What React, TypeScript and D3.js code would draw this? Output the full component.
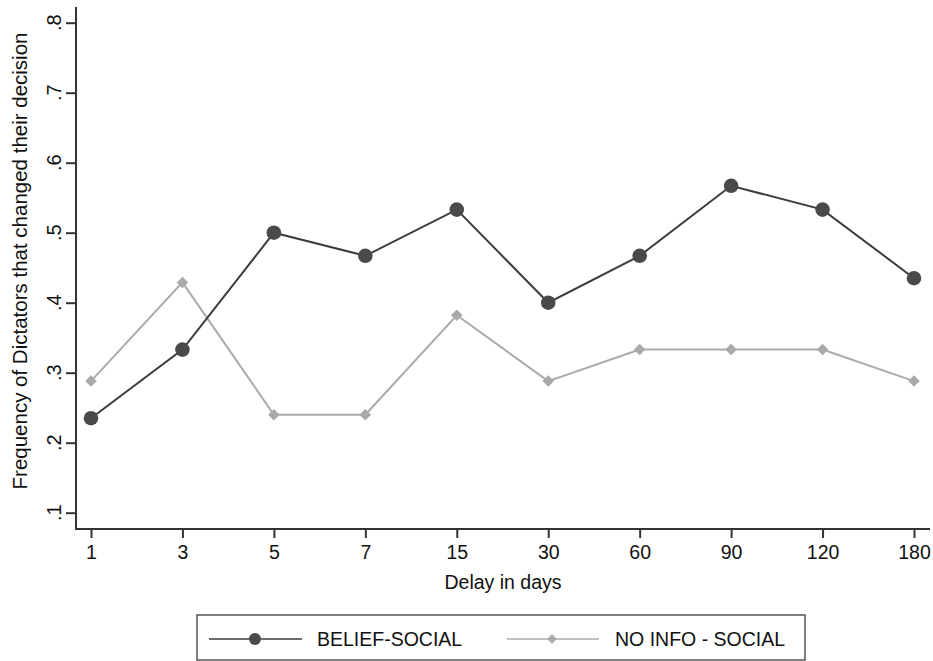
import { useEffect, useRef } from 'react';
import * as d3 from 'd3';

const delays = ['1', '3', '5', '7', '15', '30', '60', '90', '120', '180'];
const beliefSocial = [0.235, 0.333, 0.5, 0.467, 0.533, 0.4, 0.467, 0.567, 0.533, 0.435];
const noInfoSocial = [0.288, 0.429, 0.24, 0.24, 0.382, 0.288, 0.333, 0.333, 0.333, 0.288];
const yTicks = [0.1, 0.2, 0.3, 0.4, 0.5, 0.6, 0.7, 0.8];
const seriesNames = ['BELIEF-SOCIAL', 'NO INFO - SOCIAL'];

const App = () => {
  const svgRef = useRef<SVGSVGElement | null>(null);

  const width = 933;
  const height = 661;
  const axisLeft = 76;
  const axisBottom = 529;
  const font = '"Liberation Sans", Arial, Helvetica, sans-serif';

  useEffect(() => {
    const svgElement = svgRef.current;
    if (!svgElement) return;

    const svg = d3.select(svgElement);
    svg.selectAll('*').remove();

    const x = d3.scalePoint<string>().domain(delays).range([91, 914]);
    const y = d3.scaleLinear().domain([0.1, 0.8]).range([512.7, 22.7]);

    // y axis
    const yAxis = svg.append('g').attr('transform', `translate(${axisLeft},0)`)
      .call(d3.axisLeft(y).tickValues(yTicks).tickSize(10).tickSizeOuter(0));
    yAxis.select('.domain').remove();
    yAxis.selectAll('line').attr('stroke', '#333').attr('stroke-width', 2);
    yAxis.selectAll('text').remove();
    yAxis.append('line')
      .attr('x1', 0).attr('x2', 0).attr('y1', 7).attr('y2', axisBottom)
      .attr('stroke', '#333').attr('stroke-width', 2);

    svg.append('g').selectAll('text').data(yTicks).join('text')
      .attr('transform', d => `translate(61,${y(d)}) rotate(-90)`)
      .attr('text-anchor', 'middle')
      .attr('font-family', font).attr('font-size', 20).attr('fill', '#111')
      .text(d => d3.format('.1f')(d).replace(/^0/, ''));

    // x axis
    const xAxis = svg.append('g').attr('transform', `translate(0,${axisBottom})`)
      .call(d3.axisBottom(x).tickSize(9).tickSizeOuter(0));
    xAxis.select('.domain').remove();
    xAxis.selectAll('line').attr('stroke', '#333').attr('stroke-width', 2);
    xAxis.selectAll('text')
      .attr('y', 30).attr('dy', 0)
      .attr('font-family', font).attr('font-size', 19.5).attr('fill', '#111');
    xAxis.append('line')
      .attr('x1', axisLeft - 1).attr('x2', 930).attr('y1', 0).attr('y2', 0)
      .attr('stroke', '#333').attr('stroke-width', 2);

    // axis titles
    svg.append('text')
      .attr('x', 503).attr('y', 589)
      .attr('text-anchor', 'middle')
      .attr('font-family', font).attr('font-size', 19.5).attr('fill', '#111')
      .text('Delay in days');
    svg.append('text')
      .attr('transform', `translate(27,${(7 + axisBottom) / 2 - 7}) rotate(-90)`)
      .attr('text-anchor', 'middle')
      .attr('font-family', font).attr('font-size', 20.5).attr('fill', '#111')
      .text('Frequency of Dictators that changed their decision');

    const line = d3.line<number>()
      .x((_, i) => x(delays[i]) ?? 0)
      .y(d => y(d));

    const diamond = d3.symbol().type(d3.symbolDiamond2).size(85);

    // NO INFO - SOCIAL
    svg.append('path').datum(noInfoSocial)
      .attr('fill', 'none').attr('stroke', '#aaaaaa').attr('stroke-width', 2)
      .attr('d', line);
    svg.append('g').selectAll('path').data(noInfoSocial).join('path')
      .attr('transform', (d, i) => `translate(${x(delays[i])},${y(d)})`)
      .attr('d', diamond)
      .attr('fill', '#a9a9a9');

    // BELIEF-SOCIAL
    svg.append('path').datum(beliefSocial)
      .attr('fill', 'none').attr('stroke', '#3c3c3c').attr('stroke-width', 2)
      .attr('d', line);
    svg.append('g').selectAll('circle').data(beliefSocial).join('circle')
      .attr('cx', (_, i) => x(delays[i]) ?? 0)
      .attr('cy', d => y(d))
      .attr('r', 7.3)
      .attr('fill', '#4a4a4a');

    // legend
    const legend = svg.append('g');
    legend.append('rect')
      .attr('x', 197).attr('y', 615).attr('width', 608).attr('height', 45)
      .attr('fill', 'white').attr('stroke', '#555').attr('stroke-width', 1.5);

    const ly = 639;
    legend.append('line').attr('x1', 209).attr('x2', 302).attr('y1', ly).attr('y2', ly)
      .attr('stroke', '#3c3c3c').attr('stroke-width', 1.5);
    legend.append('circle').attr('cx', 255).attr('cy', ly).attr('r', 6).attr('fill', '#4a4a4a');
    legend.append('text').attr('x', 317).attr('y', ly + 7)
      .attr('font-family', font).attr('font-size', 19.5).attr('fill', '#111')
      .text(seriesNames[0]);

    legend.append('line').attr('x1', 507).attr('x2', 599).attr('y1', ly).attr('y2', ly)
      .attr('stroke', '#aaaaaa').attr('stroke-width', 1.5);
    legend.append('path').attr('transform', `translate(552,${ly})`)
      .attr('d', d3.symbol().type(d3.symbolDiamond2).size(60)).attr('fill', '#a9a9a9');
    legend.append('text').attr('x', 615).attr('y', ly + 7)
      .attr('font-family', font).attr('font-size', 19.5).attr('fill', '#111')
      .text(seriesNames[1]);
  }, []);

  return (
    <svg
      ref={svgRef}
      width={width}
      height={height}
      style={{ position: 'absolute', left: 0, top: 0, background: 'white' }}
    />
  );
};

export default App;
